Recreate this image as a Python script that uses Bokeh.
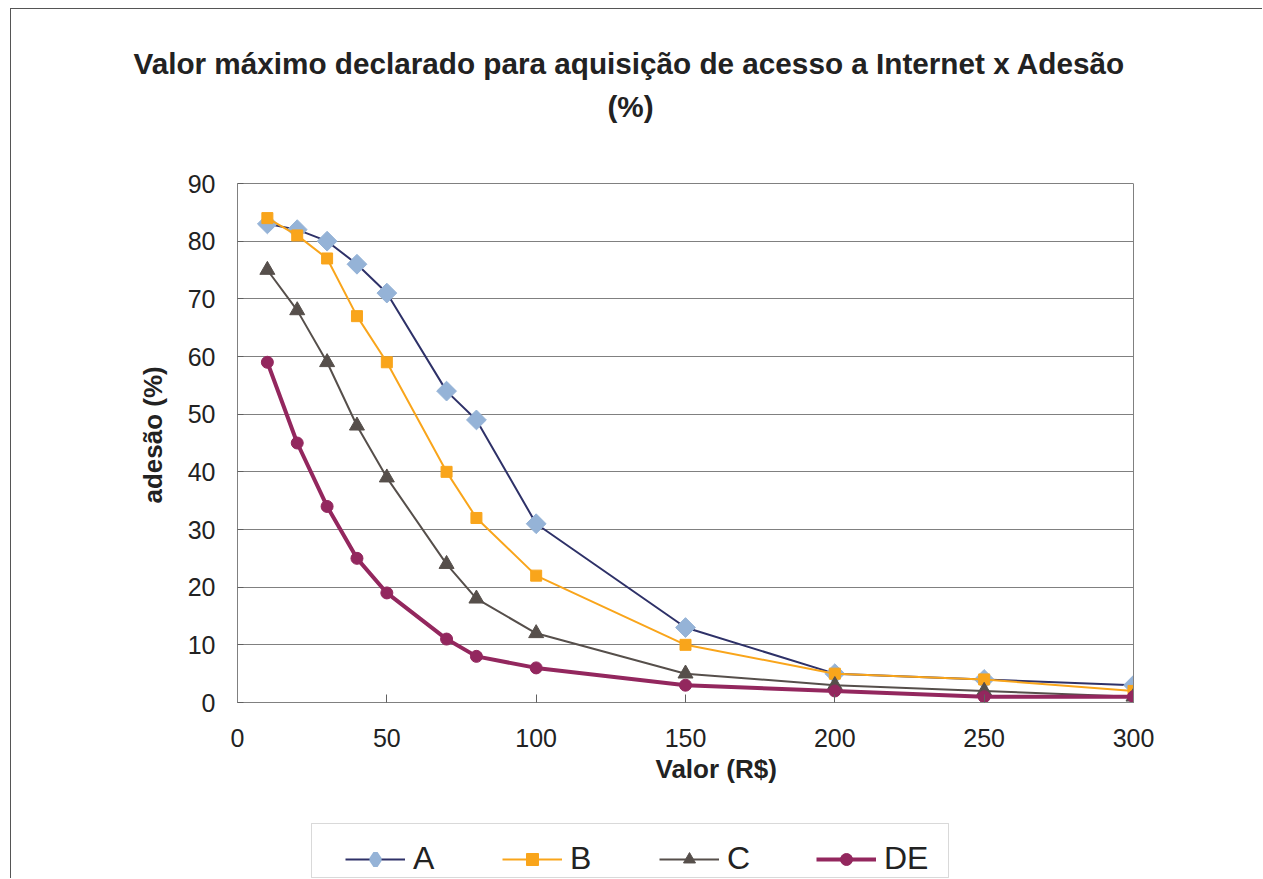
import numpy as np
from bokeh.plotting import figure
from bokeh.layouts import column
from bokeh.models import (Range1d, Legend, LegendItem, FixedTicker, Label, BoxAnnotation,
                          Title, LinearAxis)
from bokeh.embed import file_html
from bokeh.resources import INLINE

valor = [10, 20, 30, 40, 50, 70, 80, 100, 150, 200, 250, 300]
serie_a = [83, 82, 80, 76, 71, 54, 49, 31, 13, 5, 4, 3]
serie_b = [84, 81, 77, 67, 59, 40, 32, 22, 10, 5, 4, 2]
serie_c = [75, 68, 59, 48, 39, 24, 18, 12, 5, 3, 2, 1]
serie_de = [59, 45, 34, 25, 19, 11, 8, 6, 3, 2, 1, 1]
series_names = ["A", "B", "C", "DE"]
x_ticks = [0, 50, 100, 150, 200, 250, 300]
y_ticks = [0, 10, 20, 30, 40, 50, 60, 70, 80, 90]

title1 = "Valor máximo declarado para aquisição de acesso a Internet x Adesão"
title2 = "(%)"
xlabel = "Valor (R$)"
ylabel = "adesão (%)"

FONT = "Liberation Sans"
TXT = "#222222"
GRID = "#808080"
W = 1252

styles = [
    dict(line_color="#2E3168", line_width=2, marker="square", angle=np.pi / 4, size=14,
         mcolor="#95B3D7", legend_marker="diamond", legend_mlw=5),
    dict(line_color="#F9A51B", line_width=2, marker="square", angle=0.0, size=11,
         mcolor="#F9A51B", legend_marker="square", legend_mlw=1),
    dict(line_color="#564F4B", line_width=2, marker="triangle", angle=0.0, size=15,
         mcolor="#564F4B", legend_marker="triangle", legend_mlw=1),
    dict(line_color="#93275E", line_width=4, marker="circle", angle=0.0, size=12,
         mcolor="#93275E", legend_marker="circle", legend_mlw=1),
]
series = [serie_a, serie_b, serie_c, serie_de]

# ---------------- main chart (frame extends above the plot box to hold the title) ----------
H1 = 803
p = figure(width=W, height=H1, output_backend="svg", toolbar_location=None,
           x_range=Range1d(0, 300), y_range=Range1d(0, 107.17),
           min_border_left=226, min_border_right=130, min_border_top=75, min_border_bottom=110)
p.margin = (8, 0, 0, 10)
p.styles = {"border-left": "1px solid #555555", "border-top": "1px solid #555555"}
p.background_fill_color = "white"
p.border_fill_color = "white"
p.outline_line_color = None

p.xgrid.grid_line_color = None
p.ygrid.grid_line_color = GRID
p.ygrid.grid_line_width = 1

for ax in (p.xaxis, p.yaxis):
    ax.axis_line_color = GRID
    ax.major_tick_line_color = "#606060"
    ax.minor_tick_line_color = None
    ax.major_label_text_font = FONT
    ax.major_label_text_font_size = "25px"
    ax.major_label_text_color = TXT
p.xaxis.ticker = FixedTicker(ticks=x_ticks)
p.yaxis.ticker = FixedTicker(ticks=y_ticks)
p.yaxis.bounds = (y_ticks[0], y_ticks[-1])
p.xaxis.major_tick_in = 8
p.xaxis.major_tick_out = 0
p.yaxis.major_tick_in = 6
p.yaxis.major_tick_out = 0
p.xaxis.major_label_standoff = 26
p.yaxis.major_label_standoff = 22

# right edge of the plot box
right_axis = LinearAxis(bounds=(y_ticks[0], y_ticks[-1]), ticker=FixedTicker(ticks=[]),
                        axis_line_color=GRID, major_tick_in=0, major_tick_out=0,
                        minor_tick_line_color=None)
p.add_layout(right_axis, "right")

for ys, st in zip(series, styles):
    p.line(valor, ys, line_color=st["line_color"], line_width=st["line_width"])
    p.scatter(valor, ys, marker=st["marker"], angle=st["angle"], size=st["size"],
              fill_color=st["mcolor"], line_color=st["mcolor"])

# titles
p.add_layout(Title(text=title1, align="left", offset=-104, standoff=10,
                   text_font=FONT, text_font_size="29.7px", text_font_style="bold",
                   text_color=TXT), "above")
p.add_layout(Label(x=131.6, y=103.3, text=title2, text_align="center", text_baseline="middle",
                   text_font=FONT, text_font_size="29.7px", text_font_style="bold",
                   text_color=TXT))
p.add_layout(Title(text=xlabel, align="left", offset=418, standoff=4,
                   text_font=FONT, text_font_size="26px", text_font_style="bold",
                   text_color=TXT), "below")
p.add_layout(Title(text=ylabel, align="left", offset=199, standoff=34,
                   text_font=FONT, text_font_size="26px", text_font_style="bold",
                   text_color=TXT), "left")

# ---------------- legend strip ----------------
H2 = 67
f2 = figure(width=W, height=H2, output_backend="svg", toolbar_location=None,
            x_range=Range1d(0, 896), y_range=Range1d(0, H2),
            x_axis_location=None, y_axis_location=None, min_border=0)
f2.margin = (0, 0, 0, 10)
f2.styles = {"border-left": "1px solid #555555"}
f2.outline_line_color = None
f2.grid.visible = False
f2.add_layout(BoxAnnotation(left=74, right=711, bottom=1, top=55, fill_alpha=0,
                            line_color=GRID, line_width=1))

items = []
for name, ys, st in zip(series_names, series, styles):
    rl = f2.line(valor, ys, line_color=st["line_color"], line_width=st["line_width"],
                 visible=False)
    rm = f2.scatter(valor, ys, marker=st["legend_marker"], size=st["size"],
                    fill_color=st["mcolor"], line_color=st["mcolor"],
                    line_width=st["legend_mlw"], visible=False)
    items.append(LegendItem(label=name, renderers=[rl, rm]))

legend = Legend(items=items, orientation="horizontal", location=(108, 1))
legend.border_line_color = None
legend.background_fill_alpha = 0
legend.padding = 8
legend.spacing = 29
legend.glyph_width = 60
legend.glyph_height = 30
legend.label_width = 60
legend.label_standoff = 8
legend.label_text_font = FONT
legend.label_text_font_size = "32px"
legend.label_text_color = TXT
legend.margin = 0
f2.add_layout(legend, "center")

layout = column(p, f2, spacing=0)
open("out.html", "w").write(file_html(layout, INLINE))
